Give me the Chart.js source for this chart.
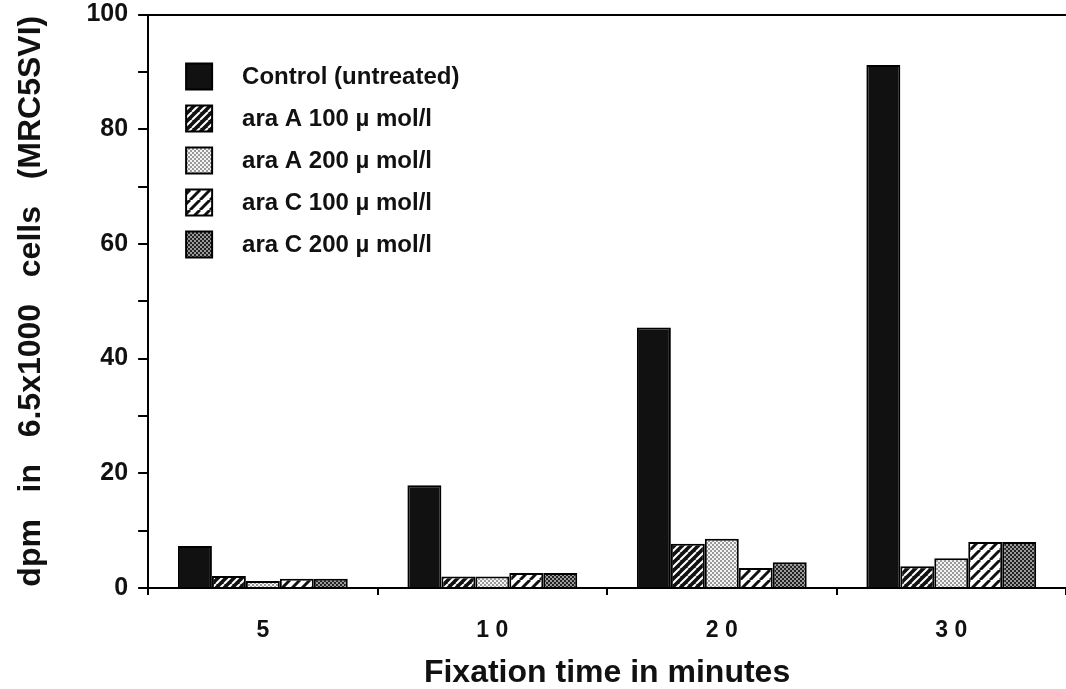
<!DOCTYPE html>
<html>
<head>
<meta charset="utf-8">
<script src="https://cdn.jsdelivr.net/npm/chart.js@4"></script>
<style>
  html, body { margin: 0; padding: 0; background: #fff; }
  #wrap { width: 1066px; height: 689px; }
</style>
</head>
<body>
<div id="wrap"><canvas id="chart"></canvas></div>
<script>
// fixation time (min), shown with spaced digits as in the figure
const categories = ['5', '1 0', '2 0', '3 0'];
const seriesNames = [
    'Control (untreated)',
    'ara A 100 \u00b5 mol/l',
    'ara A 200 \u00b5 mol/l',
    'ara C 100 \u00b5 mol/l',
    'ara C 200 \u00b5 mol/l'
];
const control = [7.3, 17.9, 45.4, 91.2];
const araA100 = [2.1, 2.0, 7.7, 3.8];
const araA200 = [1.2, 2.0, 8.6, 5.2];
const araC100 = [1.6, 2.6, 3.5, 8.0];
const araC200 = [1.6, 2.6, 4.5, 8.0];
const yTicks = [0, 20, 40, 60, 80, 100];

const FONT = '"Liberation Sans", Arial, Helvetica, sans-serif';
const ctx = document.getElementById('chart').getContext('2d');

function tile(size, bg, draw) {
    const c = document.createElement('canvas');
    c.width = c.height = size;
    const g = c.getContext('2d');
    g.fillStyle = bg;
    g.fillRect(0, 0, size, size);
    draw(g, size);
    return ctx.createPattern(c, 'repeat');
}

function stripes(bg, fg, size, width) {
    return tile(size, bg, (g, s) => {
        g.strokeStyle = fg;
        g.lineWidth = width;
        g.beginPath();
        for (let k = -1; k <= 1; k++) {
            g.moveTo(k * s, s);
            g.lineTo(k * s + s, 0);
        }
        g.stroke();
    });
}

function dots(bg, fg) {
    return tile(4, bg, (g) => {
        g.fillStyle = fg;
        g.fillRect(0, 0, 2, 2);
        g.fillRect(2, 2, 2, 2);
    });
}

const fills = [
    '#111111',
    stripes('#111111', '#ffffff', 8, 2),
    dots('#f4f4f4', '#9a9a9a'),
    stripes('#ffffff', '#111111', 10, 3),
    dots('#9a9a9a', '#222222')
];
const values = [control, araA100, araA200, araC100, araC200];

// legend drawn inside the plot area, top-left, in a single column
const insideLegend = {
    id: 'insideLegend',
    afterDraw(chart) {
        const c = chart.ctx;
        const area = chart.chartArea;
        const x = area.left + 38;
        let y = area.top + 62;
        c.save();
        c.font = 'bold 24px ' + FONT;
        c.textBaseline = 'middle';
        chart.data.datasets.forEach(ds => {
            c.fillStyle = ds.backgroundColor;
            c.fillRect(x, y - 13, 26, 26);
            c.strokeStyle = '#000';
            c.lineWidth = 2;
            c.strokeRect(x, y - 13, 26, 26);
            c.fillStyle = '#111';
            c.fillText(ds.label, x + 56, y + 1);
            y += 42;
        });
        c.restore();
    }
};

new Chart(ctx, {
    type: 'bar',
    data: {
        labels: categories,
        datasets: seriesNames.map((name, i) => ({
            label: name,
            data: values[i],
            backgroundColor: fills[i],
            borderColor: '#000',
            borderWidth: 2,
            borderSkipped: 'bottom',
            categoryPercentage: 0.74,
            barPercentage: 1.0
        }))
    },
    options: {
        responsive: true,
        maintainAspectRatio: false,
        animation: false,
        layout: { padding: { left: 12, right: 0, top: 0, bottom: 0 } },
        plugins: {
            legend: { display: false },
            tooltip: { enabled: false }
        },
        scales: {
            x: {
                grid: {
                    offset: true,
                    drawOnChartArea: false,
                    color: '#000',
                    lineWidth: 2,
                    tickLength: 7
                },
                border: { display: true, color: '#000', width: 2 },
                ticks: {
                    color: '#111',
                    padding: 22,
                    font: { family: FONT, size: 23, weight: 'bold' }
                },
                title: {
                    display: true,
                    text: 'Fixation time in minutes',
                    color: '#111',
                    padding: { top: 0, bottom: 9 },
                    font: { family: FONT, size: 32, weight: 'bold', lineHeight: 0.42 }
                }
            },
            y: {
                min: 0,
                max: 100,
                ticks: {
                    stepSize: 10,
                    color: '#111',
                    padding: 10,
                    font: { family: FONT, size: 25, weight: 'bold', lineHeight: 0.36 },
                    callback: v => yTicks.includes(v) ? v : ''
                },
                grid: {
                    drawOnChartArea: true,
                    color: c => (c.tick && c.tick.value === 100) ? '#000' : 'rgba(0,0,0,0)',
                    tickColor: '#000',
                    lineWidth: 2,
                    tickLength: 10
                },
                border: { display: true, color: '#000', width: 2 },
                title: {
                    display: true,
                    text: 'dpm   in   6.5x1000   cells   (MRC5SVI)',
                    color: '#111',
                    padding: { top: 0, bottom: 26 },
                    font: { family: FONT, size: 32, weight: 'bold' }
                }
            }
        }
    },
    plugins: [insideLegend]
});
</script>
</body>
</html>
